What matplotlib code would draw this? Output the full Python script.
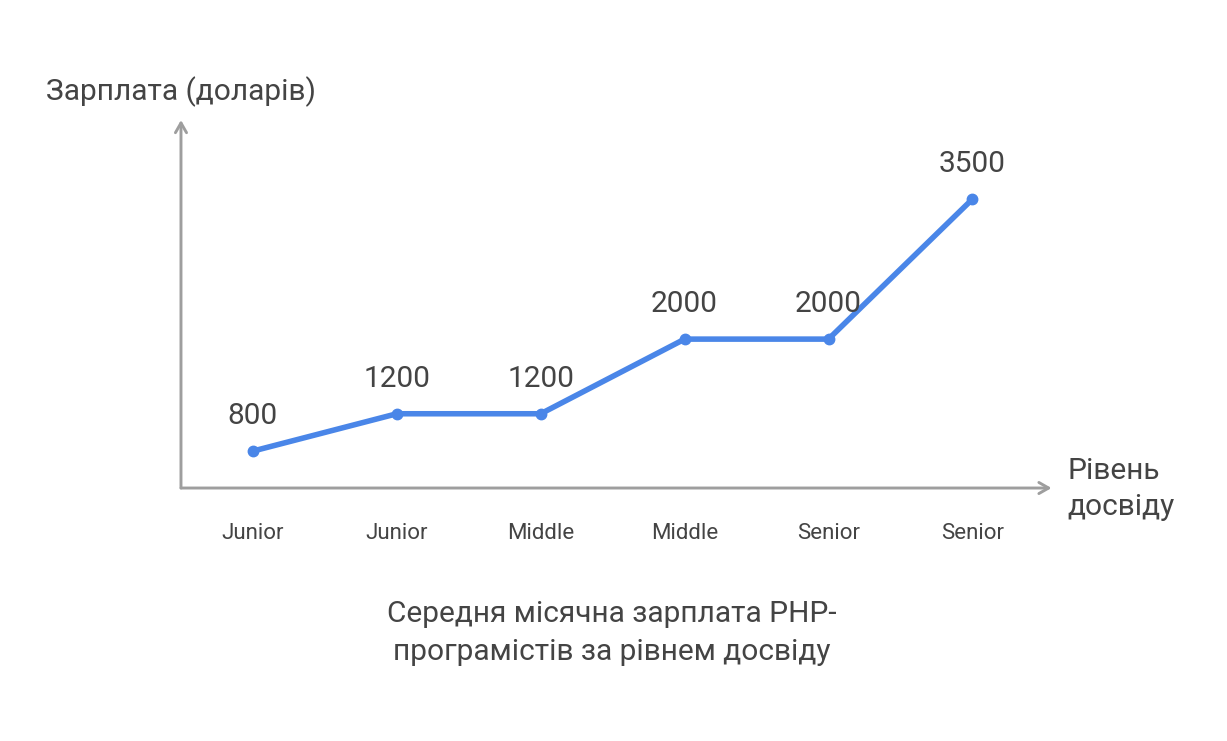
import matplotlib
matplotlib.use('Agg')
import matplotlib.pyplot as plt

plt.rcParams['font.family'] = ['Roboto', 'DejaVu Sans']

# дані
levels = ['Junior', 'Junior', 'Middle', 'Middle', 'Senior', 'Senior']
salary = [800, 1200, 1200, 2000, 2000, 3500]
value_labels = ['800', '1200', '1200', '2000', '2000', '3500']

text_color = '#444444'
axis_color = '#9e9e9e'
line_color = '#4a86e8'

fig = plt.figure(figsize=(12.27, 7.41), dpi=100)
ax = fig.add_axes([0.1475, 0.3414, 0.7095, 0.4966])

x = list(range(len(salary)))
ax.plot(x, salary, color=line_color, linewidth=4, marker='o', markersize=7.5,
        solid_capstyle='round', zorder=3)

for xi, yi, lab in zip(x, salary, value_labels):
    ax.annotate(lab, (xi, yi), xytext=(0, 25), textcoords='offset points',
                ha='center', va='center', fontsize=21.5, color=text_color)

ax.set_xlim(-0.5, 5.55)
ax.set_ylim(404, 4348)

for s in ax.spines.values():
    s.set_visible(False)
ax.set_yticks([])
ax.set_xticks(x)
ax.set_xticklabels(levels, fontsize=16, color=text_color)
ax.tick_params(axis='x', length=0, pad=25)

# стрілки осей
arrow = dict(arrowstyle='->,head_length=0.7,head_width=0.4',
             color=axis_color, lw=2.1, shrinkA=0, shrinkB=0)
ax.annotate('', xy=(1.0, 0), xytext=(0, 0), xycoords='axes fraction',
            arrowprops=arrow)
ax.annotate('', xy=(0, 1.0), xytext=(0, 0), xycoords='axes fraction',
            arrowprops=arrow)

fig.text(46 / 1227, 1 - 92 / 741, 'Зарплата (доларів)', fontsize=21.5,
         color=text_color, ha='left', va='center')
fig.text(1067 / 1227, 1 - 489 / 741, 'Рівень\nдосвіду', fontsize=21.5,
         color=text_color, ha='left', va='center', linespacing=1.38)
fig.text(612 / 1227, 1 - 633 / 741,
         'Середня місячна зарплата PHP-\nпрограмістів за рівнем досвіду',
         fontsize=21.5, color=text_color, ha='center', va='center', linespacing=1.45)

plt.savefig('out.png', dpi=100)
